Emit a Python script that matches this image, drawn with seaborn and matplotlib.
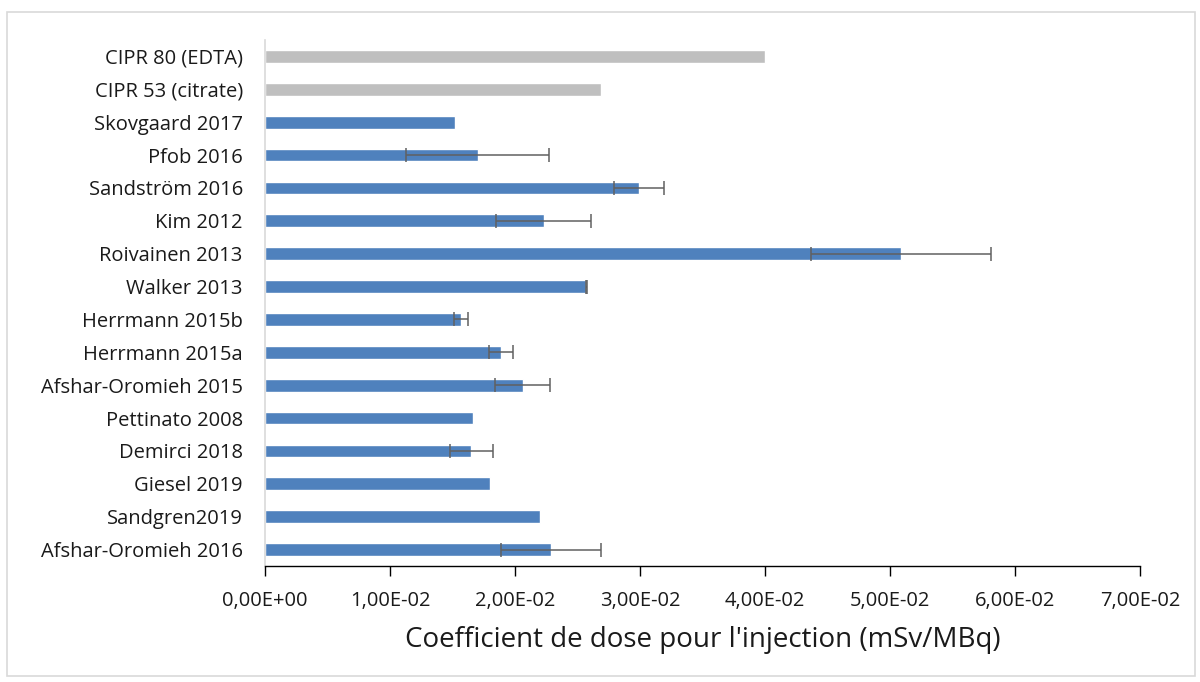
import matplotlib
matplotlib.use("Agg")
import matplotlib.pyplot as plt
import matplotlib.ticker as mticker
from matplotlib.patches import Rectangle
import seaborn as sns
import pandas as pd
import numpy as np

studies = ["CIPR 80 (EDTA)", "CIPR 53 (citrate)", "Skovgaard 2017", "Pfob 2016",
           "Sandström 2016", "Kim 2012", "Roivainen 2013", "Walker 2013",
           "Herrmann 2015b", "Herrmann 2015a", "Afshar-Oromieh 2015", "Pettinato 2008",
           "Demirci 2018", "Giesel 2019", "Sandgren2019", "Afshar-Oromieh 2016"]
values = [0.0400, 0.0269, 0.0152, 0.0170, 0.0299, 0.0223, 0.0509, 0.0257,
          0.0157, 0.0189, 0.0206, 0.0166, 0.0165, 0.0180, 0.0220, 0.0229]
errors = [0, 0, 0, 0.0057, 0.0020, 0.0038, 0.0072, 0.00003,
          0.00057, 0.00095, 0.0022, 0, 0.0017, 0, 0, 0.0040]
groups = ["CIPR", "CIPR"] + ["Etude"] * 14
xticks = [0, 0.01, 0.02, 0.03, 0.04, 0.05, 0.06, 0.07]

df = pd.DataFrame({"study": studies, "value": values, "group": groups})

sns.set_style("white")
plt.rcParams["font.family"] = ["Open Sans", "DejaVu Sans"]

fig = plt.figure(figsize=(12, 6.82), dpi=100)
ax = fig.add_axes([265 / 1200, 1 - 566 / 682, 875 / 1200, 526 / 682])

sns.barplot(data=df, x="value", y="study", hue="group", orient="h",
            palette={"CIPR": "#BFBFBF", "Etude": "#4F81BD"}, width=0.39,
            dodge=False, legend=False, ax=ax, saturation=1)

ypos = np.arange(len(studies))
err = np.array(errors)
mask = err > 0
ax.errorbar(np.array(values)[mask], ypos[mask], xerr=err[mask], fmt="none",
            ecolor="#606060", elinewidth=1.1, capsize=5, capthick=1.1, zorder=5)

ax.set_xlim(0, 0.07)
ax.set_ylim(len(studies) - 0.5, -0.5)
ax.set_xticks(xticks)
ax.xaxis.set_major_formatter(mticker.FuncFormatter(
    lambda v, p: ("%.2E" % v).replace(".", ",")))
ax.tick_params(axis="x", which="major", direction="out", length=7, width=1,
               color="black", labelsize=14.5, pad=11, bottom=True)
ax.tick_params(axis="y", length=0, labelsize=14.5, pad=16)
for lab in ax.get_xticklabels() + ax.get_yticklabels():
    lab.set_color("#1a1a1a")

ax.set_xlabel("Coefficient de dose pour l'injection (mSv/MBq)", fontsize=20,
              color="#1a1a1a", labelpad=11)
ax.set_ylabel("")

for s in ["top", "right"]:
    ax.spines[s].set_visible(False)
ax.spines["left"].set_color("#D9D9D9")
ax.spines["left"].set_linewidth(1.2)
ax.spines["bottom"].set_color("black")
ax.spines["bottom"].set_linewidth(1)

fig.patches.append(Rectangle((7 / 1200, 1 - 676 / 682), 1188 / 1200, 664 / 682,
                             transform=fig.transFigure, fill=False,
                             edgecolor="#D9D9D9", linewidth=1.2))

fig.savefig("out.png", dpi=100)
